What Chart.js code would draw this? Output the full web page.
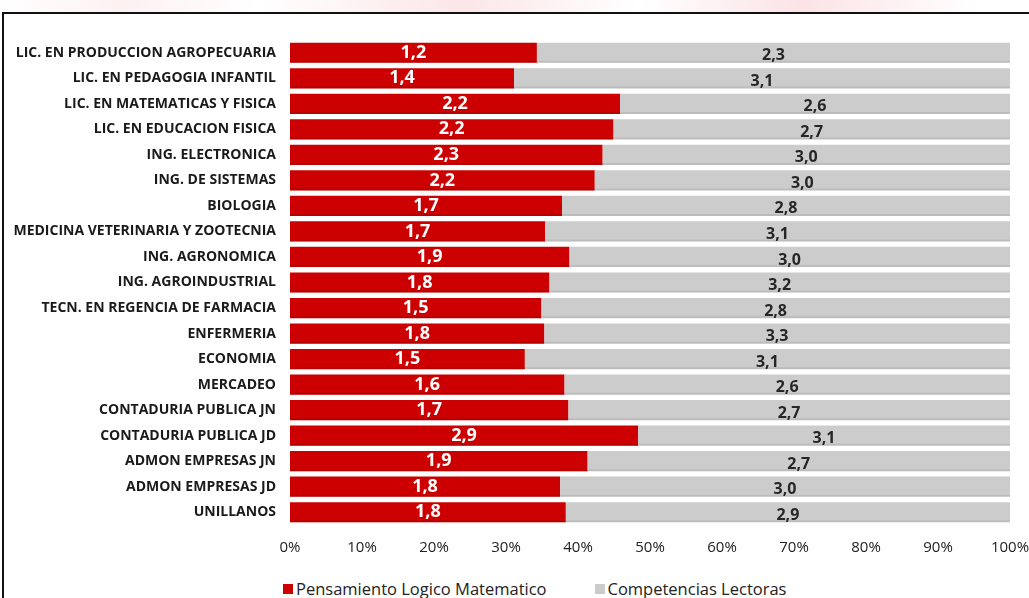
<!DOCTYPE html>
<html>
<head>
<meta charset="utf-8">
<script src="https://cdn.jsdelivr.net/npm/chart.js@4.4.1/dist/chart.umd.min.js"></script>
<style>
  html, body { margin: 0; padding: 0; background: #fff; }
  body { width: 1029px; height: 598px; position: relative; overflow: hidden; }
  .wash { position: absolute; left: 0; top: 0; width: 1029px; height: 14px;
    background: linear-gradient(100deg, #fff 0%, #fdf1f2 12%, #fff 25%, #fbe6e8 45%, #fff 62%, #fbe3e6 78%, #fff 95%); }
  .frame { position: absolute; left: 2px; top: 12px; width: 1100px; height: 700px;
    border: 2px solid #111; box-sizing: border-box; }
  #chartBox { position: absolute; left: 0; top: 0; width: 1029px; height: 568px; }
  #legend ul { position: absolute; left: 283px; top: 577px; margin: 0; padding: 0;
    list-style: none; display: flex; font-family: "Open Sans", sans-serif;
    font-size: 16.5px; color: #222; }
  #legend li { display: flex; align-items: center; margin-right: 48px; }
  #legend .box { width: 10px; height: 10px; margin-right: 3px; }
</style>
</head>
<body>
<div class="wash"></div>
<div class="frame"></div>
<div id="chartBox"><canvas id="resultadosChart"></canvas></div>
<div id="legend"><ul></ul></div>
<script>
const programas = [
  "LIC. EN PRODUCCION AGROPECUARIA",
  "LIC. EN PEDAGOGIA INFANTIL",
  "LIC. EN MATEMATICAS Y FISICA",
  "LIC. EN EDUCACION FISICA",
  "ING. ELECTRONICA",
  "ING. DE SISTEMAS",
  "BIOLOGIA",
  "MEDICINA VETERINARIA Y ZOOTECNIA",
  "ING. AGRONOMICA",
  "ING. AGROINDUSTRIAL",
  "TECN. EN REGENCIA DE FARMACIA",
  "ENFERMERIA",
  "ECONOMIA",
  "MERCADEO",
  "CONTADURIA PUBLICA JN",
  "CONTADURIA PUBLICA JD",
  "ADMON EMPRESAS JN",
  "ADMON EMPRESAS JD",
  "UNILLANOS",
];
const pensamientoLogico = [1.2, 1.4, 2.2, 2.2, 2.3, 2.2, 1.7, 1.7, 1.9, 1.8, 1.5, 1.8, 1.5, 1.6, 1.7, 2.9, 1.9, 1.8, 1.8];
const competenciasLectoras = [2.3, 3.1, 2.6, 2.7, 3.0, 3.0, 2.8, 3.1, 3.0, 3.2, 2.8, 3.3, 3.1, 2.6, 2.7, 3.1, 2.7, 3.0, 2.9];
const xTicks = [0, 10, 20, 30, 40, 50, 60, 70, 80, 90, 100];

const rojo = "#cc0000",
  gris = "#cccccc",
  labelFont = '"Open Sans", sans-serif';

// 100% stacked: each bar shows its share of the row total
const totales = programas.map((_, i) => pensamientoLogico[i] + competenciasLectoras[i]);
const pctRojo = pensamientoLogico.map((v, i) => (v / totales[i]) * 100);
const pctGris = competenciasLectoras.map((v, i) => (v / totales[i]) * 100);

const fmt = (v) => v.toFixed(1).replace(".", ",");

const valueLabels = {
  id: "valueLabels",
  afterDatasetsDraw(c) {
    const { ctx } = c;
    const raw = [pensamientoLogico, competenciasLectoras];
    c.data.datasets.forEach((ds, di) => {
      const meta = c.getDatasetMeta(di);
      meta.data.forEach((bar, i) => {
        const cx = (bar.base + bar.x) / 2;
        ctx.save();
        ctx.textAlign = "center";
        ctx.textBaseline = "middle";
        if (di === 0) {
          ctx.fillStyle = "#ffffff";
          ctx.font = "bold 18px " + labelFont;
          ctx.fillText(fmt(raw[di][i]), cx, bar.y);
        } else {
          ctx.fillStyle = "#262626";
          ctx.font = "bold 16px " + labelFont;
          ctx.fillText(fmt(raw[di][i]), cx, bar.y + 3);
        }
        ctx.restore();
      });
    });
  },
};

// thin darker strip under each bar, like the soft shadow in the original
const barShadow = {
  id: "barShadow",
  afterDatasetsDraw(c) {
    const { ctx } = c;
    c.data.datasets.forEach((ds, di) => {
      const meta = c.getDatasetMeta(di);
      meta.data.forEach((bar) => {
        const left = Math.min(bar.base, bar.x);
        const w = Math.abs(bar.x - bar.base);
        ctx.save();
        ctx.fillStyle = di === 0 ? "rgba(120,0,0,0.25)" : "rgba(0,0,0,0.08)";
        ctx.fillRect(left, bar.y + bar.height / 2 - 2, w, 2);
        ctx.restore();
      });
    });
  },
};

const htmlLegend = {
  id: "htmlLegend",
  afterUpdate(c) {
    const ul = document.querySelector("#legend ul");
    while (ul.firstChild) ul.firstChild.remove();
    c.data.datasets.forEach((ds) => {
      const li = document.createElement("li"),
        box = document.createElement("span"),
        label = document.createElement("span");
      box.className = "box";
      box.style.backgroundColor = ds.backgroundColor;
      label.textContent = ds.label;
      li.appendChild(box);
      li.appendChild(label);
      ul.appendChild(li);
    });
  },
};

new Chart(document.getElementById("resultadosChart"), {
  type: "bar",
  data: {
    labels: programas,
    datasets: [
      {
        label: "Pensamiento Logico Matematico",
        data: pctRojo,
        backgroundColor: rojo,
        barPercentage: 0.88,
        categoryPercentage: 0.9,
      },
      {
        label: "Competencias Lectoras",
        data: pctGris,
        backgroundColor: gris,
        barPercentage: 0.88,
        categoryPercentage: 0.9,
      },
    ],
  },
  options: {
    indexAxis: "y",
    responsive: true,
    maintainAspectRatio: false,
    animation: false,
    layout: {
      padding: { top: 40, bottom: 0, left: 0, right: 0 },
    },
    scales: {
      x: {
        stacked: true,
        min: 0,
        max: 100,
        afterBuildTicks: (s) => {
          s.ticks = xTicks.map((v) => ({ value: v }));
        },
        afterFit: (s) => {
          s.height = 43;
          s.paddingRight = 19;
        },
        border: { display: false },
        grid: { display: false, drawTicks: false },
        ticks: {
          padding: 14,
          color: "#222",
          font: { family: labelFont, size: 15 },
          callback: (v) => v + "%",
          maxRotation: 0,
        },
      },
      y: {
        stacked: true,
        afterFit: (s) => {
          s.width = 290;
        },
        border: { display: false },
        grid: { display: false, drawTicks: false },
        ticks: {
          padding: 14,
          color: "#1a1a1a",
          font: { family: labelFont, size: 14, weight: "bold" },
        },
      },
    },
    plugins: {
      legend: { display: false },
      tooltip: { enabled: false },
    },
  },
  plugins: [barShadow, valueLabels, htmlLegend],
});
</script>
</body>
</html>
